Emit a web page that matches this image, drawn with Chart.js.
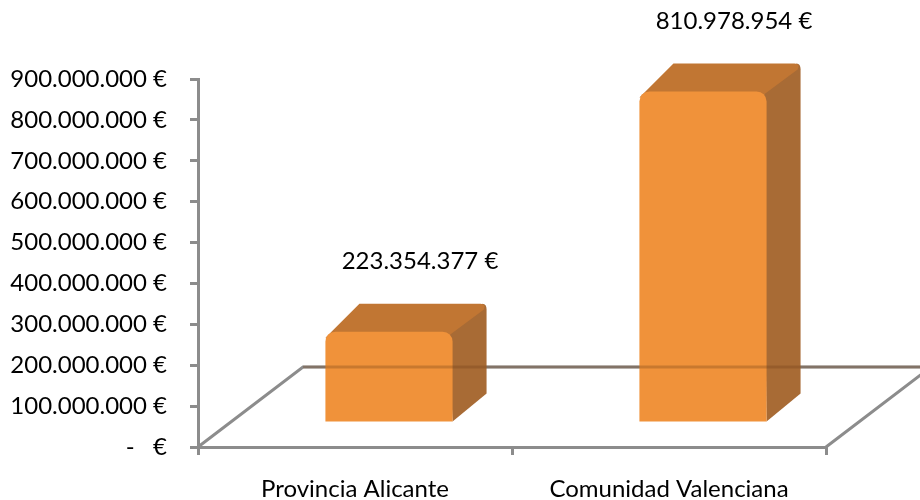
<!DOCTYPE html>
<html>
<head>
<meta charset="utf-8">
<script src="https://cdn.jsdelivr.net/npm/chart.js@4/dist/chart.umd.min.js"></script>
<style>
  html, body { margin: 0; padding: 0; background: #fff; }
  #wrap { width: 920px; height: 500px; }
</style>
</head>
<body>
<div id="wrap"><canvas id="grafico"></canvas></div>
<script>
const categories = ['Provincia Alicante', 'Comunidad Valenciana'];
const values = [223354377, 810978954];
const valueLabels = ['223.354.377 €', '810.978.954 €'];
const yTickLabels = ['-   €', '100.000.000 €', '200.000.000 €', '300.000.000 €', '400.000.000 €',
  '500.000.000 €', '600.000.000 €', '700.000.000 €', '800.000.000 €', '900.000.000 €'];

const FONT = 'Lato';
const AXIS = '#8c8c8c';
// 3d look: front face shift, bar depth, floor depth
const shift = { x: 34, y: -24 };
const depth = { x: 34, y: 28 };
const floor = { x: 105, y: 80 };

const efecto3d = {
  id: 'efecto3d',
  beforeDatasetsDraw(chart) {
    const ctx = chart.ctx;
    const a = chart.chartArea;
    ctx.save();
    ctx.strokeStyle = AXIS;
    ctx.lineWidth = 3;
    ctx.beginPath();
    ctx.moveTo(a.left, a.bottom);
    ctx.lineTo(a.left + floor.x, a.bottom - floor.y);
    ctx.lineTo(chart.width, a.bottom - floor.y);
    ctx.moveTo(a.right, a.bottom);
    ctx.lineTo(a.right + floor.x, a.bottom - floor.y);
    ctx.stroke();

    chart.getDatasetMeta(0).data.forEach(bar => {
      const x0 = bar.x - bar.width / 2 + shift.x;
      const x1 = bar.x + bar.width / 2 + shift.x;
      const yT = bar.y + shift.y;
      const yB = bar.base + shift.y;
      // cara lateral
      ctx.fillStyle = '#a86b35';
      ctx.beginPath();
      ctx.moveTo(x1 - 4, yT);
      ctx.lineTo(x1 + depth.x - 4, yT - depth.y);
      ctx.quadraticCurveTo(x1 + depth.x, yT - depth.y, x1 + depth.x, yT - depth.y + 6);
      ctx.lineTo(x1 + depth.x, yB - depth.y);
      ctx.lineTo(x1, yB);
      ctx.closePath();
      ctx.fill();
      // cara superior
      ctx.fillStyle = '#c17633';
      ctx.beginPath();
      ctx.moveTo(x0, yT + 6);
      ctx.lineTo(x0 + depth.x, yT - depth.y);
      ctx.lineTo(x1 + depth.x - 6, yT - depth.y);
      ctx.quadraticCurveTo(x1 + depth.x, yT - depth.y, x1 + depth.x - 3, yT - depth.y + 6);
      ctx.lineTo(x1 - 4, yT + 4);
      ctx.closePath();
      ctx.fill();
    });
    ctx.translate(shift.x, shift.y);
  },
  afterDatasetsDraw(chart) {
    const ctx = chart.ctx;
    ctx.restore();
    const a = chart.chartArea;
    ctx.save();
    ctx.strokeStyle = 'rgba(110,60,20,0.3)';
    ctx.lineWidth = 3;
    ctx.beginPath();
    ctx.moveTo(a.left + floor.x, a.bottom - floor.y);
    ctx.lineTo(chart.width, a.bottom - floor.y);
    ctx.stroke();

    ctx.fillStyle = '#000';
    ctx.font = '24px ' + FONT;
    ctx.textAlign = 'center';
    ctx.textBaseline = 'middle';
    chart.getDatasetMeta(0).data.forEach((bar, i) => {
      ctx.fillText(valueLabels[i], bar.x + 65, bar.y + shift.y - depth.y - 42);
    });
    ctx.restore();
  }
};

const grad = (ctx) => {
  const c = ctx.chart;
  const el = ctx.element;
  if (!el || !el.width) return '#f0923a';
  const x0 = el.x - el.width / 2 + shift.x;
  const g = c.ctx.createLinearGradient(x0, 0, x0 + el.width, 0);
  g.addColorStop(0, '#ec8a33');
  g.addColorStop(0.15, '#f0923a');
  g.addColorStop(0.85, '#f19339');
  g.addColorStop(0.95, '#f79a3e');
  g.addColorStop(1, '#ea8c35');
  return g;
};

new Chart(document.getElementById('grafico'), {
  type: 'bar',
  data: {
    labels: categories,
    datasets: [{
      data: values,
      backgroundColor: grad,
      borderWidth: 0,
      borderRadius: { topLeft: 10, topRight: 10, bottomLeft: 0, bottomRight: 0 },
      borderSkipped: false,
      barPercentage: 0.405,
      categoryPercentage: 1,
      clip: false
    }]
  },
  options: {
    responsive: true,
    maintainAspectRatio: false,
    animation: false,
    layout: { padding: { top: 79, right: 94, left: 0, bottom: 0 } },
    plugins: {
      legend: { display: false },
      tooltip: { enabled: false }
    },
    scales: {
      x: {
        afterFit: s => { s.height = 53; },
        grid: { drawOnChartArea: false, color: AXIS, lineWidth: 3, tickLength: 8, offset: true },
        border: { color: AXIS, width: 3 },
        ticks: { color: '#000', font: { family: FONT, size: 24 }, padding: 20 }
      },
      y: {
        min: 0,
        max: 900000000,
        afterFit: s => { s.width = 198; },
        grid: { drawOnChartArea: false, color: AXIS, lineWidth: 3, tickLength: 8 },
        border: { color: AXIS, width: 3 },
        ticks: {
          stepSize: 100000000,
          color: '#000',
          font: { family: FONT, size: 24 },
          padding: 23,
          callback: v => yTickLabels[Math.round(v / 100000000)]
        }
      }
    }
  },
  plugins: [efecto3d]
});
</script>
</body>
</html>
